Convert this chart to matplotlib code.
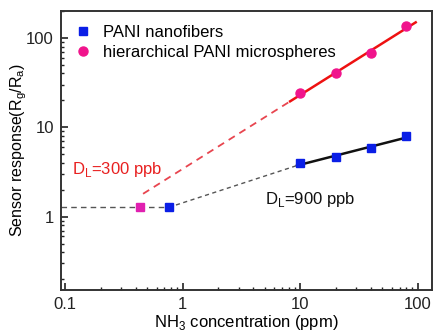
import numpy as np
import matplotlib
matplotlib.use("Agg")
import matplotlib.pyplot as plt
from matplotlib.ticker import LogLocator, NullFormatter, FixedLocator, FixedFormatter

plt.rcParams['font.family'] = ['Liberation Sans', 'DejaVu Sans']

# data
nano_x = [10, 20, 40, 80]
nano_y = [3.95, 4.68, 5.8, 8.0]
micro_x = [10, 20, 40, 80]
micro_y = [23.9, 40.0, 67.0, 136.0]
noise_x = [0.43, 0.76]
noise_y = [1.27, 1.27]
xticks = [0.1, 1, 10, 100]
xticklabels = ['0.1', '1', '10', '100']
yticks = [1, 10, 100]
yticklabels = ['1', '10', '100']

fig = plt.figure(figsize=(4.35, 3.33), dpi=100)
ax = fig.add_axes([0.140, 0.129, 0.853, 0.838])
ax.set_xscale('log')
ax.set_yscale('log')
ax.set_xlim(0.092, 132)
ax.set_ylim(0.151, 200)

def fit(xs, ys):
    p = np.polyfit(np.log10(xs), np.log10(ys), 1)
    return lambda x: 10 ** np.polyval(p, np.log10(x))

fm = fit(micro_x, micro_y)
fn = fit(nano_x, nano_y)

# dashed gray horizontal (noise level)
ax.plot([0.092, noise_x[1]], [noise_y[0], noise_y[1]], ls=(0, (4, 3)), color='#555555', lw=1.0, zorder=2)
# dashed gray from nanofiber noise point to fit
xe = 9.4
ax.plot([noise_x[1], xe], [noise_y[1], fn(xe)], ls=(0, (3, 2.5)), color='#555555', lw=1.0, zorder=2)
# red dashed extrapolation
xr = np.array([0.46, 8.2])
ax.plot(xr, fm(xr), ls=(0, (4, 3)), color='#e8454f', lw=1.3, zorder=2)
# solid fits
xs = np.array([8.2, 96])
ax.plot(xs, fm(xs), color='#ee1111', lw=1.8, zorder=3)
xb = np.array([9.4, 80])
ax.plot(xb, fn(xb), color='#111111', lw=1.8, zorder=3)

# points
ax.plot(nano_x, nano_y, 's', color='#0a1ee6', ms=6, ls='none', zorder=4, label='PANI nanofibers')
ax.plot(micro_x, micro_y, 'o', color='#f0148c', ms=6.5, ls='none', zorder=4, label='hierarchical PANI microspheres')
ax.plot(noise_x[0], noise_y[0], 's', color='#e020b0', ms=6, zorder=4)
ax.plot(noise_x[1], noise_y[1], 's', color='#0a1ee6', ms=6, zorder=4)

ax.text(0.115, 3.33, r'D$_\mathregular{L}$=300 ppb', color='#e82020', fontsize=12, va='center')
ax.text(5.0, 1.54, r'D$_\mathregular{L}$=900 ppb', color='#111111', fontsize=12, va='center')

leg = ax.legend(loc='upper left', bbox_to_anchor=(0.0, 1.0), frameon=False, fontsize=12,
                handlelength=1.0, handletextpad=0.7, borderaxespad=0.45, labelspacing=0.3)

ax.xaxis.set_major_locator(FixedLocator(xticks))
ax.xaxis.set_major_formatter(FixedFormatter(xticklabels))
ax.yaxis.set_major_locator(FixedLocator(yticks))
ax.yaxis.set_major_formatter(FixedFormatter(yticklabels))
ax.xaxis.set_minor_locator(LogLocator(base=10, subs=np.arange(2, 10)))
ax.yaxis.set_minor_locator(LogLocator(base=10, subs=np.arange(2, 10)))
ax.xaxis.set_minor_formatter(NullFormatter())
ax.yaxis.set_minor_formatter(NullFormatter())
ax.tick_params(which='major', direction='in', length=5, width=1.2, labelsize=12, colors='#222222', pad=5,
               top=False, right=False)
ax.tick_params(which='minor', direction='in', length=2.5, width=1.0, top=False, right=False, colors='#222222')
for s in ax.spines.values():
    s.set_linewidth(1.4)
    s.set_color('#333333')

ax.set_xlabel(r'NH$_\mathregular{3}$ concentration (ppm)', fontsize=12, labelpad=1)
ax.set_ylabel(r'Sensor response(R$_\mathregular{g}$/R$_\mathregular{a}$)', fontsize=11.5, labelpad=-2)

fig.savefig('out.png', dpi=100)
